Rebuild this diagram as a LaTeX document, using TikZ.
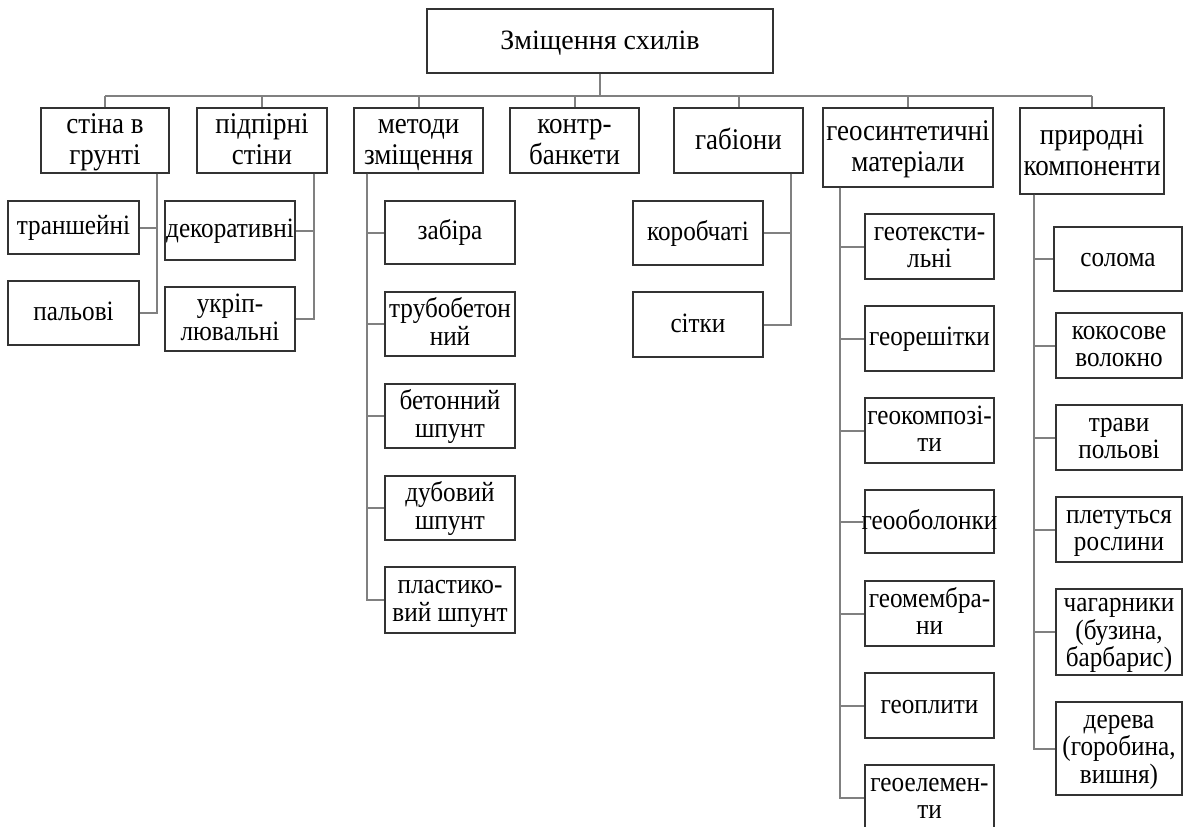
\documentclass[tikz,border=0pt]{standalone}
\usepackage{fontspec}
\setmainfont{Liberation Serif}
\newfontfamily\narrowserif[FakeStretch=0.9]{Liberation Serif}
\newcommand\tstrut{\rule[-0.2\baselineskip]{0pt}{0.95\baselineskip}}
\tikzset{
  box/.style={draw=black!80, line width=1.2pt, inner sep=0pt, align=center,
    font=\narrowserif\fontsize{28}{27.5}\selectfont},
  headbox/.style={box, font=\narrowserif\fontsize{30}{31}\selectfont},
  conn/.style={draw=black!50, line width=2pt}
}
% \bx[style]{name}{x1}{y1}{x2}{y2}{text}
\newcommand\bx[7][box]{\node[#1, minimum width={(#5-#3)*1pt}, minimum height={(#6-#4)*1pt}] (#2) at ({(#3+#5)/2},{(#4+#6)/2}) {\tstrut#7\tstrut};}
\begin{document}
\begin{tikzpicture}[x=1pt,y=-1pt]
\useasboundingbox (0,0) rectangle (1184,827);
\clip (0,0) rectangle (1184,827);
% top
\node[box, minimum width=346pt, minimum height=64pt, font=\fontsize{28}{30}\selectfont] (top) at (600,41) {\tstrut Зміщення схилів\tstrut};
% level 1
\bx[headbox]{a}{41}{108}{169}{173}{стіна в\\грунті}
\bx[headbox]{b}{197}{108}{327}{173}{підпірні\\стіни}
\bx[headbox]{c}{354}{108}{483}{173}{методи\\зміщення}
\bx[headbox]{d}{510}{108}{639}{173}{контр-\\банкети}
\bx[headbox]{e}{674}{108}{803}{173}{габіони}
\bx[headbox]{f}{823}{108}{993}{187}{геосинтетичні\\матеріали}
\bx[headbox]{g}{1020}{108}{1164}{194}{природні\\компоненти}
% bus
\draw[conn] (top.south) -- (top.south |- 0,96);
\draw[conn] (a.north |- 0,96) -- (g.north |- 0,96);
\foreach \n in {a,b,c,d,e,f,g} \draw[conn] (\n.north) -- (\n.north |- 0,96);
% children of a
\bx{a1}{8}{201}{139}{254}{траншейні}
\bx{a2}{8}{281}{139}{345}{пальові}
\foreach \n in {a1,a2} \draw[conn] (a.south -| 157,0) |- (\n.east);
% children of b
\bx{b1}{165}{201}{295}{260}{\makebox[120pt]{декоративні}}
\bx{b2}{165}{287}{295}{351}{укріп-\\лювальні}
\foreach \n in {b1,b2} \draw[conn] (b.south -| 314,0) |- (\n.east);
% children of c
\bx{c1}{385}{201}{515}{264}{забіра}
\bx{c2}{385}{292}{515}{356}{\makebox[120pt]{трубобетон}\\ний}
\bx{c3}{385}{384}{515}{448}{бетонний\\шпунт}
\bx{c4}{385}{476}{515}{540}{дубовий\\шпунт}
\bx{c5}{385}{567}{515}{633}{пластико-\\вий шпунт}
\foreach \n in {c1,c2,c3,c4,c5} \draw[conn] (c.south -| 367,0) |- (\n.west);
% children of e
\bx{e1}{633}{201}{763}{265}{коробчаті}
\bx{e2}{633}{292}{763}{357}{сітки}
\foreach \n in {e1,e2} \draw[conn] (e.south -| 791,0) |- (\n.east);
% children of f
\bx{f1}{865}{214}{994}{279}{геотексти-\\льні}
\bx{f2}{865}{306}{994}{371}{георешітки}
\bx{f3}{865}{398}{994}{463}{геокомпозі-\\ти}
\bx{f4}{865}{490}{994}{553}{\makebox[120pt]{геооболонки}}
\bx{f5}{865}{581}{994}{646}{геомембра-\\ни}
\bx{f6}{865}{673}{994}{738}{геоплити}
\bx{f7}{865}{765}{994}{830}{геоелемен-\\ти}
\foreach \n in {f1,f2,f3,f4,f5,f6,f7} \draw[conn] (f.south -| 840,0) |- (\n.west);
% children of g
\bx{g1}{1054}{227}{1182}{291}{солома}
\bx{g2}{1056}{313}{1182}{378}{кокосове\\волокно}
\bx{g3}{1056}{405}{1182}{470}{трави\\польові}
\bx{g4}{1056}{497}{1182}{562}{плетуться\\рослини}
\bx{g5}{1056}{589}{1182}{675}{чагарники\\(бузина,\\барбарис)}
\bx{g6}{1056}{702}{1182}{795}{дерева\\(горобина,\\вишня)}
\foreach \n in {g1,g2,g3,g4,g5,g6} \draw[conn] (g.south -| 1034,0) |- (\n.west);
\end{tikzpicture}
\end{document}
